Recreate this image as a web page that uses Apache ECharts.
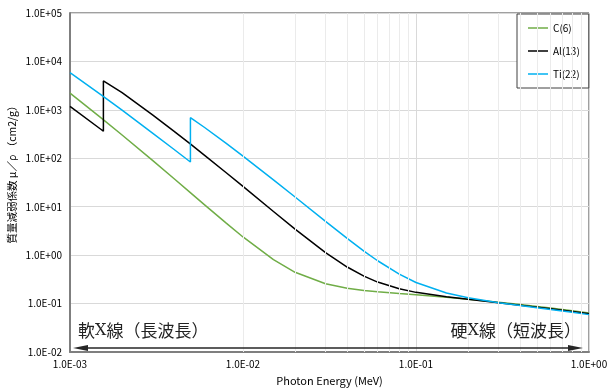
<!DOCTYPE html>
<html>
<head>
<meta charset="utf-8">
<script src="https://cdn.jsdelivr.net/npm/echarts@6/dist/echarts.min.js"></script>
<style>html,body{margin:0;padding:0;background:#fff;}#c{width:610px;height:392px;}</style>
</head>
<body>
<div id="c"></div>
<script>
// Photon energy (MeV) and mass attenuation coefficient (cm2/g)
const cEnergy  = [1.0e-3,1.5e-3,2.0e-3,3.0e-3,4.0e-3,5.0e-3,6.0e-3,8.0e-3,1.0e-2,1.5e-2,2.0e-2,3.0e-2,4.0e-2,5.0e-2,6.0e-2,8.0e-2,0.1,0.15,0.2,0.3,0.4,0.5,0.6,0.8,1.0];
const cMu      = [2211,700.2,302.6,90.33,37.78,19.12,10.95,4.576,2.373,0.8071,0.4420,0.2562,0.2076,0.1871,0.1753,0.1610,0.1514,0.1347,0.1229,0.1066,0.09546,0.08715,0.08058,0.07076,0.06361];
const alEnergy = [1.0e-3,1.5e-3,1.5596e-3,1.5596e-3,2.0e-3,3.0e-3,4.0e-3,5.0e-3,6.0e-3,8.0e-3,1.0e-2,1.5e-2,2.0e-2,3.0e-2,4.0e-2,5.0e-2,6.0e-2,8.0e-2,0.1,0.15,0.2,0.3,0.4,0.5,0.6,0.8,1.0];
const alMu     = [1185,402.2,362.1,3957,2263,788.0,360.5,193.4,115.3,50.33,26.23,7.955,3.441,1.128,0.5685,0.3681,0.2778,0.2018,0.1704,0.1378,0.1223,0.1042,0.09276,0.08445,0.07802,0.06841,0.06146];
const tiEnergy = [1.0e-3,1.5e-3,2.0e-3,3.0e-3,4.0e-3,4.9664e-3,4.9664e-3,5.0e-3,6.0e-3,8.0e-3,1.0e-2,1.5e-2,2.0e-2,3.0e-2,4.0e-2,5.0e-2,6.0e-2,8.0e-2,0.1,0.15,0.2,0.3,0.4,0.5,0.6,0.8,1.0];
const tiMu     = [5869,2096,986.0,332.3,151.7,83.8,687.8,683.8,432.3,202.3,110.7,35.87,15.85,4.972,2.214,1.213,0.7661,0.4052,0.2721,0.1649,0.1314,0.1043,0.09081,0.08196,0.07543,0.06590,0.05912];

const seriesNames = ['C(6)', 'Al(13)', 'Ti(22)'];
const seriesColors = ['#70ad47', '#000000', '#00b0f0'];
const xTickLabels = ['1.0E-03', '1.0E-02', '1.0E-01', '1.0E+00'];
const yTickLabels = ['1.0E-02', '1.0E-01', '1.0E+00', '1.0E+01', '1.0E+02', '1.0E+03', '1.0E+04', '1.0E+05'];
const minorGridX = [];
[1e-3, 1e-2, 1e-1].forEach(d => { for (let k = 2; k <= 9; k++) minorGridX.push(+(d * k).toPrecision(3)); });

const pairs = (xs, ys) => xs.map((x, i) => [x, ys[i]]);
const FONT = '"Noto Sans CJK JP", "Noto Sans", sans-serif';

const chart = echarts.init(document.getElementById('c'), null, {renderer: 'canvas'});
chart.setOption({
  animation: false,
  backgroundColor: '#ffffff',
  textStyle: {fontFamily: FONT},
  grid: {left: 70, right: 21, top: 13, bottom: 40, show: true, borderColor: '#404040', borderWidth: 1,
    backgroundColor: 'transparent', containLabel: false, outerBoundsMode: 'none'},
  legend: {
    orient: 'vertical', left: 517, top: 14,
    data: seriesNames.map(n => ({name: n, icon: 'rect'})),
    backgroundColor: '#ffffff', borderColor: '#404040', borderWidth: 1,
    padding: [8, 9, 8, 11], itemGap: 11, itemWidth: 20, itemHeight: 1.5,
    textStyle: {fontFamily: FONT, fontSize: 10, color: '#000', lineHeight: 12}
  },
  xAxis: {
    type: 'log', logBase: 10, min: 1e-3, max: 1,
    name: 'Photon Energy (MeV)', nameLocation: 'middle', nameGap: 23,
    nameTextStyle: {fontFamily: FONT, fontSize: 11, color: '#000'},
    axisLine: {show: true, lineStyle: {color: '#7f7f7f', width: 2}},
    axisTick: {show: false},
    axisLabel: {margin: 7, fontSize: 10, color: '#000', fontFamily: FONT,
      formatter: v => xTickLabels[Math.round(Math.log10(v)) + 3]},
    splitLine: {show: true, lineStyle: {color: '#d9d9d9', width: 1}}
  },
  yAxis: {
    type: 'log', logBase: 10, min: 1e-2, max: 1e5,
    axisLine: {show: true, lineStyle: {color: '#7f7f7f', width: 2}},
    axisTick: {show: false},
    axisLabel: {margin: 8, fontSize: 10, color: '#000', fontFamily: FONT,
      formatter: v => yTickLabels[Math.round(Math.log10(v)) + 2]},
    splitLine: {show: true, lineStyle: {color: '#d9d9d9', width: 1}}
  },
  series: [
    {
      name: 'grid', type: 'line', z: 1, silent: true, symbol: 'none',
      data: [[1e-3, 1e-2]], lineStyle: {opacity: 0},
      markLine: {silent: true, symbol: ['none', 'none'], label: {show: false},
        lineStyle: {color: '#ebebeb', width: 1, type: 'solid'},
        data: minorGridX.map(v => ({xAxis: v}))}
    }
  ].concat([[cEnergy, cMu], [alEnergy, alMu], [tiEnergy, tiMu]].map((d, i) => ({
    name: seriesNames[i], type: 'line', z: 3, symbol: 'none', showSymbol: false,
    data: pairs(d[0], d[1]),
    lineStyle: {color: seriesColors[i], width: 1.5}, itemStyle: {color: seriesColors[i]}
  }))),
  graphic: [
    {type: 'text', rotation: Math.PI / 2, x: 12, y: 172,
      style: {text: '質量減弱係数 μ／ρ （cm2/g）', font: '10.5px ' + FONT, fill: '#000', textAlign: 'center', textVerticalAlign: 'middle'}},
    {type: 'line', shape: {x1: 84, y1: 348, x2: 571, y2: 348}, style: {stroke: '#262626', lineWidth: 1.5}, z: 10},
    {type: 'polygon', shape: {points: [[73, 348], [88, 345], [88, 351]]}, style: {fill: '#262626'}, z: 10},
    {type: 'polygon', shape: {points: [[583, 348], [568, 345], [568, 351]]}, style: {fill: '#262626'}, z: 10},
    {type: 'text', x: 78, y: 331, z: 10,
      style: {text: '{a|軟}{x|X}{a|線（長波長）}', textVerticalAlign: 'middle', textAlign: 'left',
        rich: {a: {fontFamily: FONT, fontSize: 17, fill: '#222'}, x: {fontFamily: '"DejaVu Serif", serif', fontSize: 16, fill: '#222'}}}},
    {type: 'text', x: 581, y: 331, z: 10,
      style: {text: '{a|硬}{x|X}{a|線（短波長）}', textVerticalAlign: 'middle', textAlign: 'right',
        rich: {a: {fontFamily: FONT, fontSize: 17, fill: '#222'}, x: {fontFamily: '"DejaVu Serif", serif', fontSize: 16, fill: '#222'}}}}
  ]
});
</script>
</body>
</html>
